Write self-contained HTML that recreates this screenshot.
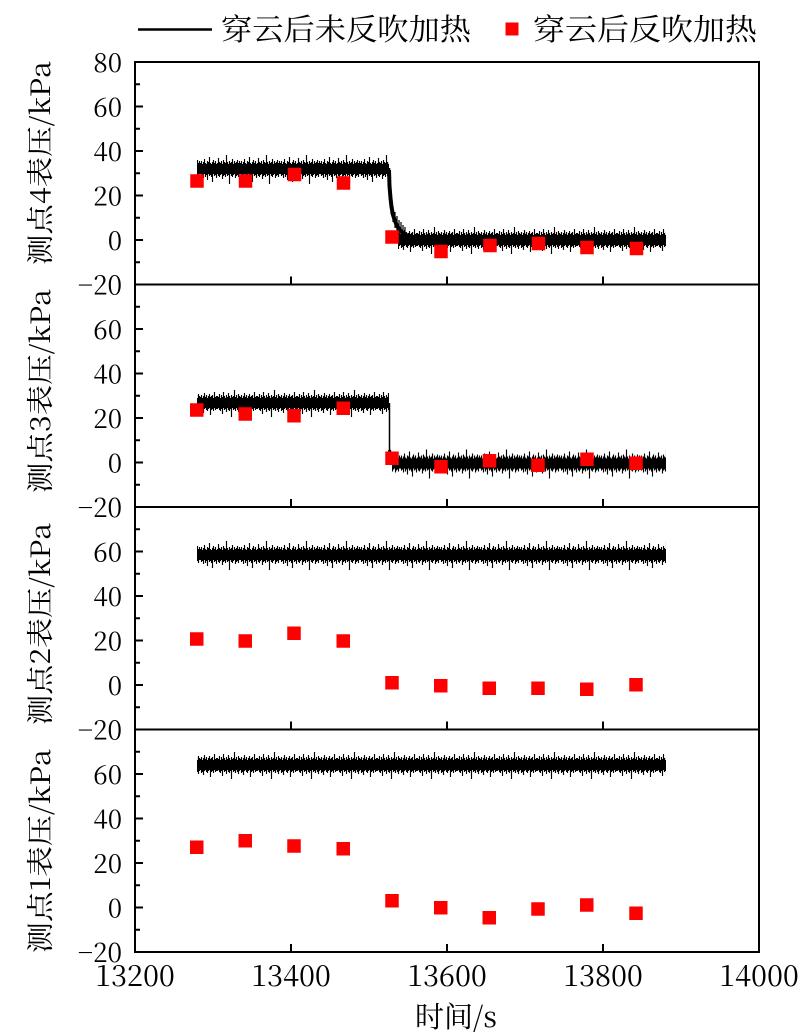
<!DOCTYPE html>
<html>
<head>
<meta charset="utf-8">
<style>
html,body{margin:0;padding:0;background:#fff;}
svg{display:block;}
svg text{font-family:"Noto Serif CJK SC","Liberation Serif",serif;fill:#000;}
</style>
</head>
<body>
<svg width="804" height="1034" viewBox="0 0 804 1034" xmlns="http://www.w3.org/2000/svg">
<defs>
<pattern id="n" patternUnits="userSpaceOnUse" x="0" y="-20" width="40" height="40">
<rect x="0" y="15" width="40" height="10" fill="#000"/>
<path stroke="#000" stroke-width="1.15" d="M0.5 14V25M1.5 12V27M2.5 15V26M3.5 13V29M4.5 10V25M5.5 14V28M6.5 15V26M7.5 12V31M8.5 13V25M9.5 8V27M10.5 14V26M11.5 15V28M12.5 13V33M13.5 11V25M14.5 14V27M15.5 12V26M16.5 15V29M17.5 14V25M18.5 9V27M19.5 13V28M20.5 14V26M21.5 12V25M22.5 15V30M23.5 11V27M24.5 13V26M25.5 14V28M26.5 6V25M27.5 13V27M28.5 15V26M29.5 12V35M30.5 14V25M31.5 13V27M32.5 10V28M33.5 15V26M34.5 12V25M35.5 14V29M36.5 13V27M37.5 11V26M38.5 14V28M39.5 12V25"/>
</pattern>
<pattern id="n2" patternUnits="userSpaceOnUse" x="17" y="-20" width="40" height="40">
<rect x="0" y="15" width="40" height="10" fill="#000"/>
<path stroke="#000" stroke-width="1.15" d="M0.5 13V26M1.5 14V25M2.5 11V27M3.5 15V28M4.5 12V26M5.5 14V31M6.5 9V25M7.5 13V27M8.5 15V26M9.5 12V29M10.5 14V25M11.5 10V27M12.5 13V28M13.5 15V26M14.5 12V34M15.5 14V25M16.5 13V27M17.5 7V26M18.5 14V28M19.5 12V25M20.5 15V27M21.5 11V29M22.5 13V26M23.5 14V25M24.5 12V28M25.5 15V27M26.5 13V30M27.5 10V26M28.5 14V25M29.5 12V27M30.5 15V28M31.5 13V26M32.5 11V25M33.5 14V32M34.5 13V27M35.5 12V26M36.5 15V28M37.5 9V25M38.5 14V27M39.5 13V26"/>
</pattern>
</defs>

<line x1="138" y1="29.5" x2="212" y2="29.5" stroke="#000" stroke-width="2.5"/>
<text x="221" y="40" font-size="30" textLength="250" lengthAdjust="spacingAndGlyphs">穿云后未反吹加热</text>
<rect x="505.5" y="22.5" width="13" height="13" fill="#ff0000"/>
<text x="533" y="40" font-size="30" textLength="224" lengthAdjust="spacingAndGlyphs">穿云后反吹加热</text>

<g transform="translate(0,169)"><rect x="197" y="-20" width="192" height="40" fill="url(#n)"/></g>
<g transform="translate(0,240)"><rect x="398" y="-20" width="268" height="40" fill="url(#n2)"/></g>
<polyline points="389,170 389.5,186 390.5,198 391.5,207 393,215 395,221 397,226 400,230 403,233 407,235.5 412,237.5 418,239 424,240" fill="none" stroke="#000" stroke-width="4"/>
<path d="M391 200V214M393 206V222M395 212V228M397 216V232M399 220V235M401 222V237M403 225V240M405 227V241" stroke="#000" stroke-width="1.2"/>
<line x1="389.5" y1="168" x2="389.5" y2="200" stroke="#000" stroke-width="1.5"/>

<g transform="translate(0,403)"><rect x="197" y="-20" width="192" height="40" fill="url(#n2)"/></g>
<g transform="translate(0,463.5)"><rect x="392" y="-20" width="274" height="40" fill="url(#n)"/></g>
<line x1="389.5" y1="403" x2="389.5" y2="458" stroke="#000" stroke-width="1.5"/>
<polyline points="389.5,450 390.5,456 392,460" fill="none" stroke="#000" stroke-width="3"/>

<g transform="translate(0,555)"><rect x="197" y="-20" width="469" height="40" fill="url(#n)"/></g>
<g transform="translate(0,765)"><rect x="197" y="-20" width="469" height="40" fill="url(#n2)"/></g>

<g fill="#ff0000">
<rect x="190.25" y="174.25" width="13.5" height="13.5"/>
<rect x="238.75" y="174.25" width="13.5" height="13.5"/>
<rect x="287.75" y="167.75" width="13.5" height="13.5"/>
<rect x="336.75" y="176.25" width="13.5" height="13.5"/>
<rect x="385.25" y="230.25" width="13.5" height="13.5"/>
<rect x="434.25" y="244.75" width="13.5" height="13.5"/>
<rect x="483.25" y="238.75" width="13.5" height="13.5"/>
<rect x="531.75" y="236.75" width="13.5" height="13.5"/>
<rect x="580.25" y="240.75" width="13.5" height="13.5"/>
<rect x="629.75" y="241.75" width="13.5" height="13.5"/>
<rect x="190" y="403.25" width="13.5" height="13.5"/>
<rect x="238.5" y="407.25" width="13.5" height="13.5"/>
<rect x="287.25" y="409" width="13.5" height="13.5"/>
<rect x="336.5" y="401.5" width="13.5" height="13.5"/>
<rect x="385.25" y="451.5" width="13.5" height="13.5"/>
<rect x="434.25" y="460" width="13.5" height="13.5"/>
<rect x="482.75" y="454" width="13.5" height="13.5"/>
<rect x="531.25" y="458.5" width="13.5" height="13.5"/>
<rect x="580.25" y="452.5" width="13.5" height="13.5"/>
<rect x="629.25" y="456.5" width="13.5" height="13.5"/>
<rect x="190" y="632.25" width="13.5" height="13.5"/>
<rect x="238.5" y="634.25" width="13.5" height="13.5"/>
<rect x="287.25" y="626.5" width="13.5" height="13.5"/>
<rect x="336.5" y="634.25" width="13.5" height="13.5"/>
<rect x="385.25" y="676" width="13.5" height="13.5"/>
<rect x="434" y="679" width="13.5" height="13.5"/>
<rect x="482.5" y="681.5" width="13.5" height="13.5"/>
<rect x="531.25" y="681.5" width="13.5" height="13.5"/>
<rect x="580" y="682.5" width="13.5" height="13.5"/>
<rect x="629.25" y="678" width="13.5" height="13.5"/>
<rect x="190" y="840.5" width="13.5" height="13.5"/>
<rect x="238.5" y="834" width="13.5" height="13.5"/>
<rect x="287.25" y="839.25" width="13.5" height="13.5"/>
<rect x="336.5" y="842" width="13.5" height="13.5"/>
<rect x="385.25" y="894" width="13.5" height="13.5"/>
<rect x="434" y="901" width="13.5" height="13.5"/>
<rect x="482.5" y="911" width="13.5" height="13.5"/>
<rect x="531.25" y="902.25" width="13.5" height="13.5"/>
<rect x="580" y="898.25" width="13.5" height="13.5"/>
<rect x="629.25" y="906.5" width="13.5" height="13.5"/>
</g>

<rect x="135" y="62" width="624" height="890" fill="none" stroke="#000" stroke-width="2"/>
<line x1="135" y1="284.5" x2="759" y2="284.5" stroke="#000" stroke-width="2"/>
<line x1="135" y1="507" x2="759" y2="507" stroke="#000" stroke-width="2"/>
<line x1="135" y1="729.5" x2="759" y2="729.5" stroke="#000" stroke-width="2"/>

<g stroke="#000" stroke-width="2">
<path d="M135 106.5H143M135 151H143M135 195.5H143M135 240H143"/>
<path d="M135 84.25H140M135 128.75H140M135 173.25H140M135 217.75H140M135 262.25H140"/>
<path d="M135 329H143M135 373.5H143M135 418H143M135 462.5H143"/>
<path d="M135 306.75H140M135 351.25H140M135 395.75H140M135 440.25H140M135 484.75H140"/>
<path d="M135 551.5H143M135 596H143M135 640.5H143M135 685H143"/>
<path d="M135 529.25H140M135 573.75H140M135 618.25H140M135 662.75H140M135 707.25H140"/>
<path d="M135 774H143M135 818.5H143M135 863H143M135 907.5H143"/>
<path d="M135 751.75H140M135 796.25H140M135 840.75H140M135 885.25H140M135 929.75H140"/>
<path d="M291 284.5V276.5M447 284.5V276.5M603 284.5V276.5"/>
<path d="M291 507V499M447 507V499M603 507V499"/>
<path d="M291 729.5V721.5M447 729.5V721.5M603 729.5V721.5"/>
<path d="M291 952V944M447 952V944M603 952V944"/>
</g>

<g font-size="26" text-anchor="end">
<text x="122" y="72">80</text>
<text x="122" y="116.5">60</text>
<text x="122" y="161">40</text>
<text x="122" y="205.5">20</text>
<text x="122" y="250">0</text>
<text x="122" y="294.5">−20</text>
<text x="122" y="339">60</text>
<text x="122" y="383.5">40</text>
<text x="122" y="428">20</text>
<text x="122" y="472.5">0</text>
<text x="122" y="517">−20</text>
<text x="122" y="561.5">60</text>
<text x="122" y="606">40</text>
<text x="122" y="650.5">20</text>
<text x="122" y="695">0</text>
<text x="122" y="739.5">−20</text>
<text x="122" y="784">60</text>
<text x="122" y="828.5">40</text>
<text x="122" y="873">20</text>
<text x="122" y="917.5">0</text>
<text x="122" y="962">−20</text>
</g>

<g font-size="29" text-anchor="middle">
<text x="135" y="986">13200</text>
<text x="291" y="986">13400</text>
<text x="447" y="986">13600</text>
<text x="603" y="986">13800</text>
<text x="759" y="986">14000</text>
</g>

<text x="456" y="1027" font-size="29" text-anchor="middle">时间/s</text>

<g font-size="27" text-anchor="middle">
<text transform="translate(50,163) rotate(-90)" x="0" y="0" textLength="204" lengthAdjust="spacingAndGlyphs">测点4表压/kPa</text>
<text transform="translate(50,391) rotate(-90)" x="0" y="0" textLength="204" lengthAdjust="spacingAndGlyphs">测点3表压/kPa</text>
<text transform="translate(50,624) rotate(-90)" x="0" y="0" textLength="202" lengthAdjust="spacingAndGlyphs">测点2表压/kPa</text>
<text transform="translate(50,851) rotate(-90)" x="0" y="0" textLength="204" lengthAdjust="spacingAndGlyphs">测点1表压/kPa</text>
</g>
</svg>
</body>
</html>
